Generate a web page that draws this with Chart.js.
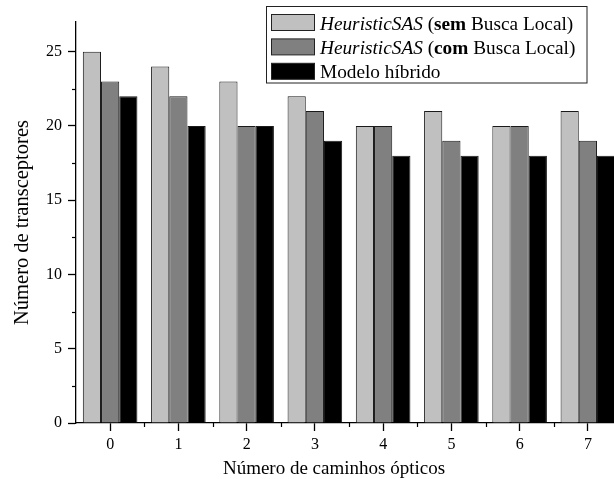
<!DOCTYPE html>
<html>
<head>
<meta charset="utf-8">
<script src="https://cdn.jsdelivr.net/npm/chart.js@4.4.1/dist/chart.umd.min.js"></script>
<style>
  html, body { margin: 0; padding: 0; background: #fff; overflow: hidden; }
  #wrap { width: 640px; height: 479px; }
</style>
</head>
<body>
<div id="wrap"><canvas id="c" width="640" height="479"></canvas></div>
<script>
// ---- data ----
const categories = ['0', '1', '2', '3', '4', '5', '6', '7'];
const semBuscaLocal = [25, 24, 23, 22, 20, 21, 20, 21];
const comBuscaLocal = [23, 22, 20, 21, 20, 19, 20, 19];
const modeloHibrido = [22, 20, 20, 19, 18, 18, 18, 18];
const seriesNames = ['HeuristicSAS (sem Busca Local)', 'HeuristicSAS (com Busca Local)', 'Modelo híbrido'];
// rich-text parts for the legend: [text, style]
const seriesLabelParts = [
  [['HeuristicSAS', 'italic'], [' (', ''], ['sem', 'bold'], [' Busca Local)', '']],
  [['HeuristicSAS', 'italic'], [' (', ''], ['com', 'bold'], [' Busca Local)', '']],
  [['Modelo híbrido', '']]
];
const yAxisTitle = 'Número de transceptores';
const xAxisTitle = 'Número de caminhos ópticos';
const yMin = 0, yMax = 27, yStep = 5;

const FONT = "'Liberation Serif', 'Times New Roman', serif";
const colors = ['#c0c0c0', '#808080', '#000000'];

const minorTicks = {
  id: 'minorTicks',
  afterDraw(chart) {
    const ctx = chart.ctx;
    const y = chart.scales.y, x = chart.scales.x;
    ctx.save();
    ctx.strokeStyle = '#000';
    ctx.lineWidth = 1.2;
    for (let v = yMin + yStep / 2; v < yMax; v += yStep) {
      const py = Math.round(y.getPixelForValue(v)) + 0.5;
      ctx.beginPath();
      ctx.moveTo(x.left, py);
      ctx.lineTo(x.left - 4, py);
      ctx.stroke();
    }
    for (let i = 0; i < categories.length - 1; i++) {
      const px = Math.round((x.getPixelForValue(i) + x.getPixelForValue(i + 1)) / 2) + 0.5;
      ctx.beginPath();
      ctx.moveTo(px, y.bottom);
      ctx.lineTo(px, y.bottom + 4);
      ctx.stroke();
    }
    // x axis title, centred on the visible part of the axis
    ctx.fillStyle = '#000';
    ctx.font = '19px ' + FONT;
    ctx.textAlign = 'center';
    ctx.textBaseline = 'alphabetic';
    ctx.fillText(xAxisTitle, 334, 474);
    ctx.restore();
  }
};

const richLegend = {
  id: 'richLegend',
  afterDraw(chart) {
    const ctx = chart.ctx;
    ctx.save();
    const bx = 266.5, by = 6.5, bw = 320.5, bh = 76.5;
    ctx.fillStyle = '#fff';
    ctx.fillRect(bx, by, bw, bh);
    ctx.strokeStyle = '#222';
    ctx.lineWidth = 1;
    ctx.strokeRect(bx, by, bw, bh);
    const rowH = 24.4;
    chart.data.datasets.forEach((ds, i) => {
      const sy = 14.5 + i * rowH;
      ctx.fillStyle = ds.backgroundColor;
      ctx.fillRect(271.5, sy, 43, 16);
      ctx.strokeStyle = '#222';
      ctx.lineWidth = 1;
      ctx.strokeRect(271.5, sy, 43, 16);
      let tx = 320;
      const baseY = 29.5 + i * rowH;
      ctx.fillStyle = '#000';
      ctx.textBaseline = 'alphabetic';
      ctx.textAlign = 'left';
      seriesLabelParts[i].forEach(([t, st]) => {
        ctx.font = (st === 'italic' ? 'italic ' : '') + (st === 'bold' ? 'bold ' : '') + '19.3px ' + FONT;
        ctx.fillText(t, tx, baseY);
        tx += ctx.measureText(t).width;
      });
    });
    ctx.restore();
  }
};

new Chart(document.getElementById('c'), {
  type: 'bar',
  data: {
    labels: categories,
    datasets: [
      { label: seriesNames[0], data: semBuscaLocal, backgroundColor: colors[0] },
      { label: seriesNames[1], data: comBuscaLocal, backgroundColor: colors[1] },
      { label: seriesNames[2], data: modeloHibrido, backgroundColor: colors[2] }
    ].map(d => Object.assign(d, { borderColor: '#1a1a1a', borderWidth: 1, categoryPercentage: 0.8, barPercentage: 1.0 }))
  },
  options: {
    responsive: false,
    devicePixelRatio: 1,
    animation: false,
    layout: { padding: { left: 0, top: 22, right: 18, bottom: 0 } },
    plugins: { legend: { display: false }, tooltip: { enabled: false } },
    scales: {
      x: {
        type: 'category',
        offset: true,
        grid: { display: true, offset: false, drawOnChartArea: false, drawTicks: true, tickLength: 8, tickColor: '#000', tickWidth: 1.3 },
        border: { display: true, color: '#000', width: 1.3 },
        ticks: { color: '#000', font: { family: FONT, size: 16 }, padding: 4, maxRotation: 0 },
        title: { display: false },
        afterFit(s) { s.height = 56; }
      },
      y: {
        min: yMin, max: yMax,
        grid: { display: true, drawOnChartArea: false, drawTicks: true, tickLength: 8, tickColor: '#000', tickWidth: 1.3 },
        border: { display: true, color: '#000', width: 1.3 },
        ticks: { stepSize: yStep, includeBounds: false, color: '#000', font: { family: FONT, size: 16 }, padding: 6 },
        title: { display: true, text: yAxisTitle, color: '#000', font: { family: FONT, size: 20.5 }, padding: { top: 10, bottom: 0 } },
        afterFit(s) { s.width = 76; }
      }
    }
  },
  plugins: [minorTicks, richLegend]
});
</script>
</body>
</html>
